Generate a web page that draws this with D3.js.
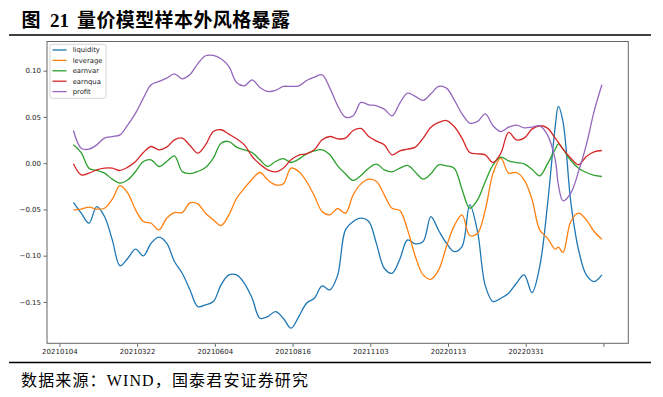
<!DOCTYPE html>
<html>
<head>
<meta charset="utf-8">
<script src="https://cdn.jsdelivr.net/npm/d3@7"></script>
<style>
  body { margin: 0; background: #fff; }
  svg { display: block; }
</style>
</head>
<body>
<svg width="663" height="397"></svg>
<script>
// trading-day index of each sample (x axis is the day number)
var days = [9, 14, 19, 24, 29, 34, 39, 44, 49, 54, 59, 64, 69, 74, 79, 84, 89, 94, 99,
    104, 109, 114, 119, 124, 129, 134, 139, 144, 149, 154, 159, 164, 169, 174, 179,
    184, 189, 194, 199, 204, 209, 214, 219, 224, 229, 234, 239, 244, 249, 254, 259,
    264, 269, 274, 279, 284, 289, 294, 299, 304, 309, 314, 319, 321, 324, 329, 334,
    339, 344, 349];

var liquidity = [-0.0425, -0.0541, -0.0649, -0.0469, -0.0577, -0.0829, -0.1110, -0.1027,
    -0.0930, -0.1002, -0.0865, -0.0800, -0.0865, -0.1063, -0.1190, -0.1370, -0.1550,
    -0.1532, -0.1496, -0.1316, -0.1208, -0.1208, -0.1298, -0.1460, -0.1676, -0.1658,
    -0.1604, -0.1676, -0.1784, -0.1658, -0.1514, -0.1460, -0.1327, -0.1370, -0.1210,
    -0.0721, -0.0631, -0.0595, -0.0631, -0.0872, -0.1136, -0.1190, -0.1038, -0.0829,
    -0.0872, -0.0847, -0.0577, -0.0728, -0.0865, -0.0955, -0.0901, -0.0451, -0.0739,
    -0.1325, -0.1496, -0.1460, -0.1406, -0.1298, -0.1208, -0.1399, -0.1118, -0.0451,
    0.0397, 0.0613, 0.0447, -0.0418, -0.0937, -0.1208, -0.1280, -0.1208];

var leverage = [-0.0505, -0.0497, -0.0476, -0.0497, -0.0487, -0.0389, -0.0242, -0.0324,
    -0.0505, -0.0631, -0.0649, -0.0721, -0.0595, -0.0534, -0.0534, -0.0430, -0.0440,
    -0.0541, -0.0613, -0.0674, -0.0559, -0.0379, -0.0270, -0.0173, -0.0101, -0.0180,
    -0.0234, -0.0224, -0.0054, -0.0090, -0.0198, -0.0353, -0.0523, -0.0559, -0.0490,
    -0.0541, -0.0342, -0.0224, -0.0173, -0.0198, -0.0342, -0.0487, -0.0512, -0.0721,
    -0.1009, -0.1208, -0.1255, -0.1154, -0.0901, -0.0678, -0.0559, -0.0782, -0.0757,
    -0.0505, -0.0108, 0.0054, -0.0108, -0.0101, -0.0180, -0.0389, -0.0721, -0.0811,
    -0.0930, -0.0908, -0.0966, -0.0631, -0.0541, -0.0613, -0.0739, -0.0822];

var earnvar = [0.0198, 0.0115, -0.0054, -0.0079, -0.0108, -0.0173, -0.0216, -0.0180,
    -0.0090, 0.0018, 0.0036, -0.0036, 0.0018, 0.0079, -0.0090, -0.0112, -0.0090,
    -0.0047, 0.0054, 0.0216, 0.0234, 0.0173, 0.0144, 0.0115, 0.0036, -0.0036,
    0.0018, 0.0050, 0.0007, 0.0043, 0.0101, 0.0133, 0.0144, 0.0090, -0.0029,
    -0.0115, -0.0187, -0.0133, -0.0054, -0.0011, -0.0072, -0.0094, -0.0054, -0.0025,
    -0.0097, -0.0173, -0.0115, -0.0018, -0.0029, -0.0054, -0.0281, -0.0487, -0.0397,
    -0.0198, -0.0018, 0.0065, 0.0025, 0.0007, -0.0007, -0.0065, -0.0137, -0.0007,
    0.0151, 0.0209, 0.0151, 0.0029, -0.0054, -0.0101, -0.0133, -0.0144];

var earnqua = [-0.0007, -0.0126, -0.0108, -0.0072, -0.0054, -0.0054, -0.0079, -0.0043,
    0.0018, 0.0115, 0.0180, 0.0144, 0.0173, 0.0252, 0.0270, 0.0190, 0.0108,
    0.0198, 0.0342, 0.0361, 0.0314, 0.0263, 0.0198, 0.0072, -0.0011, -0.0072,
    -0.0094, -0.0054, 0.0036, 0.0087, 0.0101, 0.0144, 0.0252, 0.0288, 0.0263,
    0.0270, 0.0353, 0.0375, 0.0288, 0.0238, 0.0198, 0.0090, 0.0133, 0.0151,
    0.0173, 0.0270, 0.0389, 0.0440, 0.0461, 0.0397, 0.0270, 0.0115, 0.0101,
    0.0090, 0.0007, 0.0108, 0.0332, 0.0252, 0.0270, 0.0368, 0.0404, 0.0379,
    0.0270, 0.0224, 0.0151, 0.0054, -0.0018, 0.0072, 0.0123, 0.0137];

var profit = [0.0353, 0.0162, 0.0151, 0.0198, 0.0270, 0.0288, 0.0306, 0.0415,
    0.0541, 0.0703, 0.0847, 0.0883, 0.0919, 0.0966, 0.0912, 0.0958, 0.1074,
    0.1161, 0.1164, 0.1128, 0.1045, 0.0872, 0.0836, 0.0901, 0.0818, 0.0775,
    0.0786, 0.0829, 0.0829, 0.0836, 0.0894, 0.0930, 0.0955, 0.0811, 0.0622,
    0.0497, 0.0512, 0.0656, 0.0631, 0.0620, 0.0584, 0.0512, 0.0649, 0.0757,
    0.0721, 0.0678, 0.0750, 0.0829, 0.0811, 0.0685, 0.0534, 0.0433, 0.0451,
    0.0532, 0.0404, 0.0342, 0.0389, 0.0411, 0.0382, 0.0389, 0.0404, 0.0306,
    0.0036, -0.0234, -0.0407, -0.0324, -0.0090, 0.0198, 0.0559, 0.0847];

var seriesNames = ['liquidity', 'leverage', 'earnvar', 'earnqua', 'profit'];
var seriesValues = [liquidity, leverage, earnvar, earnqua, profit];
var colors = ['#1f77b4', '#ff7f0e', '#2ca02c', '#d62728', '#9467bd'];

// x ticks every 50 trading days, last tick has no label
var tickDays = [0, 50, 100, 150, 200, 250, 300, 350];
var tickLabels = ['20210104', '20210322', '20210604', '20210816', '20211103',
    '20220113', '20220331', ''];
var yTicks = [-0.15, -0.10, -0.05, 0.00, 0.05, 0.10];

var titleText = '量价模型样本外风格暴露';
var sourceText = '数据来源：WIND，国泰君安证券研究';

var svg = d3.select('svg');

svg.append('rect')
    .attr('width', 663)
    .attr('height', 397)
    .attr('fill', '#fff');

// Title
var title = svg.append('text')
    .attr('y', 27)
    .style('font-weight', 'bold')
    .style('font-size', '19px')
    .attr('fill', '#000');
title.append('tspan')
    .attr('x', 21.5)
    .style('font-family', '"Noto Sans CJK SC"')
    .text('图');
title.append('tspan')
    .attr('x', 50)
    .style('font-family', '"Liberation Serif"')
    .text('21');
title.append('tspan')
    .attr('x', 77)
    .style('font-family', '"Noto Sans CJK SC"')
    .style('letter-spacing', '0.4px')
    .text(titleText);

// rules above and below the chart
svg.append('line')
    .attr('x1', 9).attr('x2', 651)
    .attr('y1', 35).attr('y2', 35)
    .attr('stroke', '#000')
    .attr('stroke-width', 1.3);
svg.append('line')
    .attr('x1', 9).attr('x2', 651)
    .attr('y1', 362.5).attr('y2', 362.5)
    .attr('stroke', '#000')
    .attr('stroke-width', 1.3);

// Source line
svg.append('text')
    .attr('x', 21)
    .attr('y', 385.5)
    .attr('textLength', 287)
    .attr('lengthAdjust', 'spacing')
    .style('font-family', '"Liberation Serif", "Noto Sans CJK SC"')
    .style('font-size', '16px')
    .attr('fill', '#000')
    .text(sourceText);

// Plot area (names avoid window.top)
var plotLeft = 47, plotRight = 628.3, plotTop = 41.5, plotBottom = 343.3;

// matplotlib style 5% margins on x
var xExtent = d3.extent(days);
var pad = (xExtent[1] - xExtent[0]) * 0.05;
var xScale = d3.scaleLinear()
    .domain([xExtent[0] - pad, xExtent[1] + pad])
    .range([plotLeft, plotRight]);

var yScale = d3.scaleLinear()
    .domain([-0.1947, 0.1315])
    .range([plotBottom, plotTop]);

var chartG = svg.append('g');

var xAxisG = chartG.append('g')
    .attr('transform', 'translate(0,' + plotBottom + ')')
    .call(d3.axisBottom(xScale)
        .tickValues(tickDays)
        .tickSize(3.5)
        .tickPadding(1.8)
        .tickFormat(function(d, i) { return tickLabels[i]; }));

var yAxisG = chartG.append('g')
    .attr('transform', 'translate(' + plotLeft + ',0)')
    .call(d3.axisLeft(yScale)
        .tickValues(yTicks)
        .tickSize(3.5)
        .tickPadding(2.5)
        .tickFormat(d3.format('.2f')));

chartG.selectAll('.domain').remove();
chartG.selectAll('.tick line')
    .attr('stroke', '#444')
    .attr('stroke-width', 0.8);
chartG.selectAll('.tick text')
    .style('font-family', '"DejaVu Sans"')
    .style('font-size', '7px')
    .attr('fill', '#222');

// Lines
var line = d3.line()
    .x(function(d) { return xScale(d[0]); })
    .y(function(d) { return yScale(d[1]); })
    .curve(d3.curveCatmullRom.alpha(0.5));

seriesValues.forEach(function(vals, k) {
    var pts = days.map(function(day, i) { return [day, vals[i]]; });
    chartG.append('path')
        .datum(pts)
        .attr('fill', 'none')
        .attr('stroke', colors[k])
        .attr('stroke-width', 1.3)
        .attr('stroke-linejoin', 'round')
        .attr('d', line);
});

// frame
chartG.append('rect')
    .attr('x', plotLeft)
    .attr('y', plotTop)
    .attr('width', plotRight - plotLeft)
    .attr('height', plotBottom - plotTop)
    .attr('fill', 'none')
    .attr('stroke', '#666')
    .attr('stroke-width', 1);

// Legend
var legendG = chartG.append('g');
legendG.append('rect')
    .attr('x', 50)
    .attr('y', 44.3)
    .attr('width', 56)
    .attr('height', 54)
    .attr('rx', 2)
    .attr('fill', '#fff')
    .attr('fill-opacity', 0.8)
    .attr('stroke', '#ccc')
    .attr('stroke-width', 0.8);

var items = legendG.selectAll('.item')
    .data(seriesNames)
    .enter()
    .append('g')
    .attr('class', 'item')
    .attr('transform', function(d, i) { return 'translate(0,' + (50 + i * 10.4) + ')'; });

items.append('line')
    .attr('x1', 52.5).attr('x2', 66.5)
    .attr('stroke', function(d, i) { return colors[i]; })
    .attr('stroke-width', 1.3);

items.append('text')
    .attr('x', 72.7)
    .attr('y', 2.4)
    .style('font-family', '"DejaVu Sans"')
    .style('font-size', '6.8px')
    .attr('fill', '#222')
    .text(function(d) { return d; });
</script>
</body>
</html>
